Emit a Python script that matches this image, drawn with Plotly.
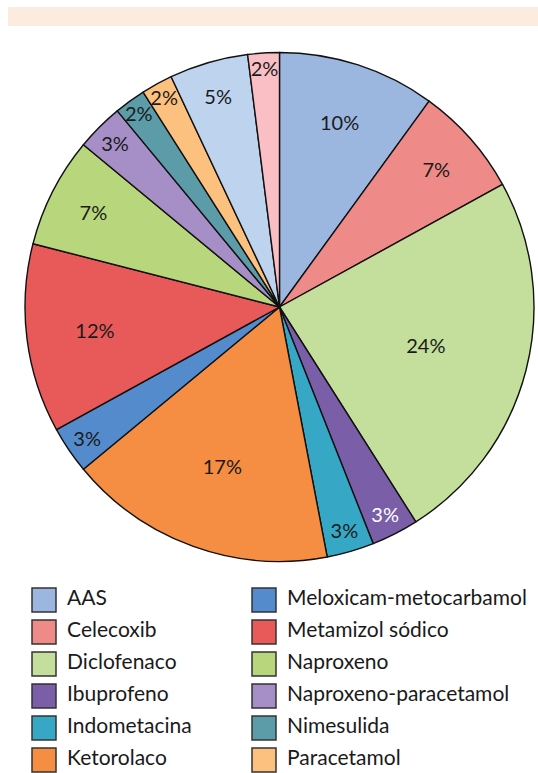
import plotly.graph_objects as go

# Share of prescriptions per drug (%), clockwise from 12 o'clock
labels = ["AAS", "Celecoxib", "Diclofenaco", "Ibuprofeno", "Indometacina", "Ketorolaco",
          "Meloxicam-metocarbamol", "Metamizol sódico", "Naproxeno", "Naproxeno-paracetamol",
          "Nimesulida", "Paracetamol", "Piroxicam", "Sulindaco"]
values = [10, 7, 24, 3, 3, 17, 3, 12, 7, 3, 2, 2, 5, 2]
colors = ["#9bb7e0", "#ee8a87", "#c4df9b", "#7a5fa8", "#36a8c6", "#f58d42",
          "#548bcd", "#e85a5a", "#b8d77d", "#a68fc6", "#5c9ca8", "#fcc07f",
          "#bdd3ee", "#f9bfc5"]
text_colors = ["#1a1a1a", "#1a1a1a", "#1a1a1a", "#ffffff", "#1a1a1a", "#1a1a1a",
               "#1a1a1a", "#1a1a1a", "#1a1a1a", "#1a1a1a", "#1a1a1a", "#1a1a1a",
               "#1a1a1a", "#1a1a1a"]

# Legend grid: two columns of six entries
legend_labels = labels[:12]
legend_colors = colors[:12]
legend_col = [i // 6 for i in range(12)]
legend_row = [i % 6 for i in range(12)]

FONT = "Lato, 'Open Sans', sans-serif"
W, H = 538, 773

fig = go.Figure()

fig.add_trace(go.Pie(
    labels=labels, values=values, sort=False, direction="clockwise", rotation=0,
    marker=dict(colors=colors, line=dict(color="#111111", width=1.4)),
    texttemplate="%{value}%", textposition="inside", insidetextorientation="horizontal",
    textfont=dict(size=20, family=FONT, color=text_colors),
    domain=dict(x=[25 / W, 534 / W], y=[1 - 562 / H, 1 - 52 / H]),
    showlegend=False, hoverinfo="label+value",
))

# Legend swatches
fig.add_trace(go.Scatter(
    x=legend_col, y=legend_row, mode="markers",
    marker=dict(symbol="square", size=24, color=legend_colors,
                line=dict(color="#333333", width=1.5)),
    showlegend=False, hoverinfo="skip", cliponaxis=False,
))
# Legend labels
fig.add_trace(go.Scatter(
    x=[c + 0.105 for c in legend_col], y=legend_row, mode="text",
    text=legend_labels, textposition="middle right",
    textfont=dict(size=21, family=FONT, color="#1a1a1a"),
    showlegend=False, hoverinfo="skip", cliponaxis=False,
))

col_px, row_px = 220, 32
x0_px, y0_px = 44, 600
fig.update_xaxes(visible=False, domain=[0, 1],
                 range=[-x0_px / col_px, (W - x0_px) / col_px])
fig.update_yaxes(visible=False, domain=[0, 1],
                 range=[(H - y0_px) / row_px, -y0_px / row_px])

fig.add_shape(type="rect", xref="paper", yref="paper",
              x0=8 / W, x1=1, y0=1 - 26 / H, y1=1 - 7 / H,
              fillcolor="#fcebdf", line=dict(width=0), layer="below")

fig.update_layout(
    width=W, height=H, margin=dict(l=0, r=0, t=0, b=0),
    paper_bgcolor="white", plot_bgcolor="white",
    uniformtext=dict(minsize=20, mode="show"),
    font=dict(family=FONT),
)

fig.write_html("out.html")
